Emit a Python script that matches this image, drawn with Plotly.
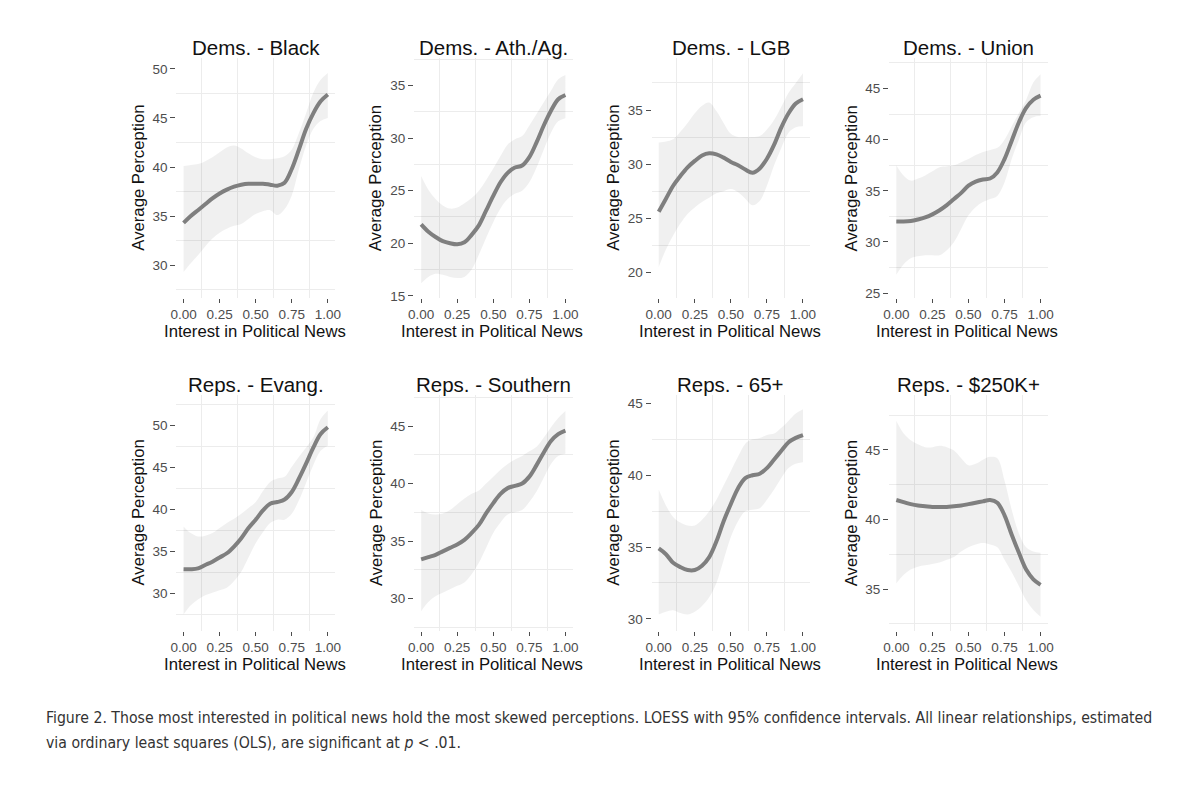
import plotly.graph_objects as go

# ---------------- data ----------------
interest = [0.0, 0.05, 0.1, 0.15, 0.2, 0.25, 0.3, 0.35, 0.4, 0.45, 0.5,
            0.55, 0.6, 0.65, 0.7, 0.75, 0.8, 0.85, 0.9, 0.95, 1.0]

panel_titles = ["Dems. - Black", "Dems. - Ath./Ag.", "Dems. - LGB", "Dems. - Union",
                "Reps. - Evang.", "Reps. - Southern", "Reps. - 65+", "Reps. - $250K+"]

black_fit = [34.3, 35.0, 35.6, 36.2, 36.8, 37.3, 37.7, 38.0, 38.2, 38.3, 38.3, 38.3, 38.2, 38.1, 38.4, 39.8, 41.8, 43.9, 45.5, 46.7, 47.4]
black_hi = [40.1, 40.2, 40.3, 40.6, 41.0, 41.5, 42.0, 42.2, 41.9, 41.4, 41.0, 40.8, 40.8, 40.9, 41.1, 41.8, 43.5, 45.5, 47.6, 48.9, 49.6]
black_lo = [29.3, 30.2, 31.0, 31.9, 32.7, 33.3, 33.7, 34.0, 34.2, 34.7, 35.2, 35.5, 35.6, 35.1, 35.7, 37.1, 39.8, 42.2, 43.9, 44.7, 45.0]

athag_fit = [21.8, 21.1, 20.6, 20.2, 20.0, 19.9, 20.1, 20.8, 21.7, 23.1, 24.5, 25.8, 26.7, 27.2, 27.4, 28.2, 29.6, 31.2, 32.6, 33.7, 34.1]
athag_hi = [26.4, 25.1, 24.2, 23.6, 23.3, 23.4, 23.8, 24.3, 25.0, 26.0, 27.1, 28.3, 29.4, 29.9, 30.2, 31.2, 32.3, 33.4, 34.5, 35.6, 36.0]
athag_lo = [16.2, 16.8, 17.1, 17.0, 16.8, 16.7, 16.8, 17.5, 18.9, 20.5, 22.0, 23.3, 24.2, 24.7, 25.0, 25.8, 27.2, 28.9, 30.5, 31.6, 31.9]

lgb_fit = [25.6, 26.8, 28.0, 28.9, 29.7, 30.3, 30.8, 31.0, 30.9, 30.6, 30.2, 29.9, 29.5, 29.2, 29.6, 30.5, 31.8, 33.4, 34.7, 35.6, 36.0]
lgb_hi = [32.0, 32.1, 32.3, 33.0, 33.8, 34.7, 35.4, 35.7, 34.9, 33.8, 32.8, 32.5, 32.5, 32.5, 32.6, 33.2, 34.1, 35.3, 36.6, 37.5, 38.4]
lgb_lo = [20.5, 22.1, 23.4, 24.5, 25.4, 26.0, 26.5, 26.9, 27.3, 27.5, 27.7, 27.4, 26.8, 26.2, 26.6, 28.0, 29.9, 31.5, 32.9, 33.4, 33.5]

union_fit = [32.0, 32.0, 32.05, 32.2, 32.4, 32.7, 33.1, 33.6, 34.2, 34.8, 35.5, 35.9, 36.1, 36.2, 36.8, 38.1, 39.9, 41.7, 43.1, 43.9, 44.3]
union_hi = [37.5, 36.5, 36.0, 36.2, 36.5, 36.9, 37.3, 37.4, 37.5, 37.8, 38.1, 38.5, 38.8, 39.0, 39.2, 40.0, 41.3, 42.6, 43.9, 45.6, 46.4]
union_lo = [26.8, 27.8, 28.4, 28.6, 28.7, 28.7, 28.7, 29.2, 30.0, 31.3, 32.6, 33.4, 33.9, 34.2, 34.5, 35.8, 38.1, 40.0, 41.7, 42.2, 42.3]

evang_fit = [32.9, 32.9, 33.0, 33.4, 33.8, 34.3, 34.8, 35.6, 36.6, 37.8, 38.8, 39.9, 40.7, 40.9, 41.2, 42.1, 43.7, 45.5, 47.4, 49.0, 49.8]
evang_hi = [38.0, 37.2, 36.8, 36.9, 37.2, 37.8, 38.4, 38.9, 39.5, 40.2, 40.9, 42.2, 43.3, 43.7, 43.9, 45.1, 46.3, 47.4, 48.6, 50.8, 51.8]
evang_lo = [27.5, 28.6, 29.3, 29.8, 30.1, 30.4, 30.7, 31.5, 32.6, 34.3, 36.0, 37.3, 38.4, 38.8, 38.8, 39.5, 41.1, 43.2, 45.3, 47.0, 47.6]

south_fit = [33.4, 33.6, 33.8, 34.1, 34.4, 34.7, 35.1, 35.7, 36.4, 37.4, 38.3, 39.1, 39.6, 39.8, 40.0, 40.6, 41.6, 42.7, 43.7, 44.3, 44.6]
south_hi = [37.7, 37.4, 37.3, 37.4, 37.7, 38.2, 38.7, 39.1, 39.4, 40.0, 40.6, 41.2, 41.7, 42.1, 42.4, 42.8, 43.2, 44.0, 44.9, 45.7, 46.3]
south_lo = [28.9, 29.7, 30.2, 30.5, 30.8, 31.1, 31.4, 32.1, 33.1, 34.4, 35.7, 36.6, 37.3, 37.5, 37.7, 38.4, 39.3, 40.5, 41.7, 42.4, 42.6]

age65_fit = [34.9, 34.5, 33.9, 33.6, 33.4, 33.4, 33.7, 34.3, 35.4, 36.8, 38.0, 39.1, 39.8, 40.0, 40.1, 40.5, 41.1, 41.7, 42.3, 42.6, 42.8]
age65_hi = [39.0, 37.9, 37.1, 36.7, 36.5, 36.5, 36.9, 37.5, 38.3, 39.3, 40.3, 41.3, 42.2, 42.5, 42.6, 42.8, 42.9, 43.3, 43.8, 44.3, 44.6]
age65_lo = [30.3, 30.5, 30.6, 30.4, 30.3, 30.5, 30.9, 31.5, 32.5, 34.1, 35.7, 36.8, 37.5, 37.6, 37.7, 38.3, 39.0, 39.8, 40.5, 40.8, 40.9]

rich_fit = [41.4, 41.25, 41.1, 41.0, 40.95, 40.9, 40.9, 40.9, 40.95, 41.0, 41.1, 41.2, 41.3, 41.4, 41.2, 40.3, 38.9, 37.6, 36.4, 35.7, 35.3]
rich_hi = [47.1, 46.2, 45.7, 45.4, 45.2, 45.2, 45.3, 45.2, 44.95, 44.4, 43.9, 44.0, 44.3, 44.5, 44.4, 42.8, 40.7, 39.0, 38.0, 37.7, 37.6]
rich_lo = [35.4, 36.0, 36.4, 36.6, 36.7, 36.8, 36.9, 37.1, 37.3, 37.7, 38.0, 38.2, 38.3, 38.2, 38.0, 37.1, 36.2, 35.2, 34.2, 33.5, 33.0]

x_tick_vals = [0.0, 0.25, 0.5, 0.75, 1.0]
x_tick_text = ["0.00", "0.25", "0.50", "0.75", "1.00"]

caption_line1 = ("Figure 2. Those most interested in political news hold the most skewed perceptions. "
                 "LOESS with 95% confidence intervals. All linear relationships, estimated")
caption_line2 = "via ordinary least squares (OLS), are significant at <i>p</i> < .01."

fits = [black_fit, athag_fit, lgb_fit, union_fit, evang_fit, south_fit, age65_fit, rich_fit]
his = [black_hi, athag_hi, lgb_hi, union_hi, evang_hi, south_hi, age65_hi, rich_hi]
los = [black_lo, athag_lo, lgb_lo, union_lo, evang_lo, south_lo, age65_lo, rich_lo]

# ---------------- layout / styling ----------------
OFF = 8                      # page body margin compensation
W, H = 1200 - OFF, 798 - OFF
y_ranges = [[26.63, 51.15], [14.78, 37.65], [17.61, 39.84], [24.51, 48.01],
            [25.54, 53.70], [27.17, 47.74], [29.15, 45.62], [31.98, 48.98]]
row_px = [(58, 300), (397, 635)]          # panel top / bottom in pixels (reference)
col_left_px = 172
col_step_px = 240
panel_w_px = 160.3


def px_x(p):
    return (p - OFF) / W


def px_y(p):
    return 1 - (p - OFF) / H


FONT = "Liberation Sans, Arial, sans-serif"
LINE_COLOR = "#7f7f7f"
RIBBON = "rgba(0,0,0,0.06)"
GRID = "#ececec"
TICK_GRAY = "#4d4d4d"

fig = go.Figure()
layout = dict(
    width=W, height=H,
    margin=dict(l=0, r=0, t=0, b=0),
    paper_bgcolor="white", plot_bgcolor="white",
    showlegend=False,
    font=dict(family=FONT, color="#1a1a1a"),
)
annotations = []

for i in range(8):
    r, c = divmod(i, 4)
    n = i + 1
    xa = "x" if n == 1 else f"x{n}"
    ya = "y" if n == 1 else f"y{n}"
    top, bot = row_px[r]
    left = col_left_px + col_step_px * c
    right = left + panel_w_px

    fig.add_trace(go.Scatter(x=interest, y=los[i], xaxis=xa, yaxis=ya, mode="lines",
                             line=dict(width=0, shape="spline", color=RIBBON),
                             hoverinfo="skip"))
    fig.add_trace(go.Scatter(x=interest, y=his[i], xaxis=xa, yaxis=ya, mode="lines",
                             line=dict(width=0, shape="spline", color=RIBBON),
                             fill="tonexty", fillcolor=RIBBON, hoverinfo="skip"))
    fig.add_trace(go.Scatter(x=interest, y=fits[i], xaxis=xa, yaxis=ya, mode="lines",
                             line=dict(width=4, shape="spline", color=LINE_COLOR)))

    xkey = "xaxis" if n == 1 else f"xaxis{n}"
    ykey = "yaxis" if n == 1 else f"yaxis{n}"
    layout[xkey] = dict(
        domain=[px_x(left), px_x(right)], anchor=ya, range=[-0.05, 1.05],
        tickvals=x_tick_vals, ticktext=x_tick_text,
        ticks="outside", ticklen=4, tickwidth=1, tickcolor=TICK_GRAY,
        showgrid=False, zeroline=False, showline=False,
        tickfont=dict(size=13.5, color=TICK_GRAY, family=FONT),
        minor=dict(tick0=0.125, dtick=0.25, showgrid=True, gridcolor=GRID, gridwidth=1, ticks=""),
        fixedrange=True,
    )
    layout[ykey] = dict(
        domain=[px_y(bot), px_y(top)], anchor=xa, range=y_ranges[i],
        tick0=0, dtick=5,
        ticks="outside", ticklen=5, tickwidth=1, tickcolor=TICK_GRAY,
        showgrid=False, zeroline=False, showline=False,
        tickfont=dict(size=13.5, color=TICK_GRAY, family=FONT),
        minor=dict(tick0=2.5, dtick=5, showgrid=True, gridcolor=GRID, gridwidth=1, ticks=""),
        fixedrange=True,
    )

    cx = (left + right) / 2
    annotations.append(dict(text=panel_titles[i], x=px_x(cx), y=px_y(top - 10),
                            xref="paper", yref="paper", xanchor="center", yanchor="middle",
                            showarrow=False, font=dict(size=20.5, color="#111111", family=FONT)))
    annotations.append(dict(text="Interest in Political News", x=px_x(cx - 1), y=px_y(bot + 34),
                            xref="paper", yref="paper", xanchor="center", yanchor="middle",
                            showarrow=False, font=dict(size=16.7, color="#111111", family=FONT)))
    annotations.append(dict(text="Average Perception", x=px_x(left - 38), y=px_y((top + bot) / 2),
                            xref="paper", yref="paper", xanchor="center", yanchor="middle",
                            textangle=-90, showarrow=False,
                            font=dict(size=16.7, color="#111111", family=FONT)))

CAP_FONT = "DejaVu Sans Condensed, DejaVu Sans, sans-serif"
annotations.append(dict(text=caption_line1, x=px_x(38), y=px_y(722), xref="paper", yref="paper",
                        xanchor="left", yanchor="middle", showarrow=False,
                        font=dict(size=15.7, color="#333333", family=CAP_FONT)))
annotations.append(dict(text=caption_line2, x=px_x(38), y=px_y(747.5), xref="paper", yref="paper",
                        xanchor="left", yanchor="middle", showarrow=False,
                        font=dict(size=15.7, color="#333333", family=CAP_FONT)))

layout["annotations"] = annotations
fig.update_layout(**layout)
fig.write_html("out.html")
